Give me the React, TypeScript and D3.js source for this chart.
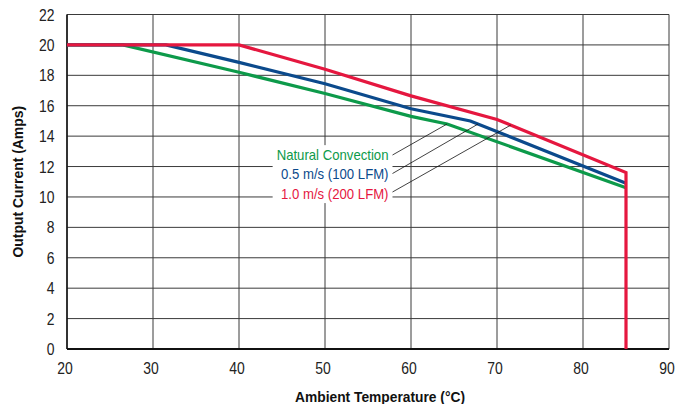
import { useLayoutEffect, useRef, useState } from 'react';
import * as d3 from 'd3';

// derating curves (°C → A)
const NAT_T = [20, 26.5, 40, 50, 60, 64.2, 85];
const NAT_A = [20, 20, 18.2, 16.8, 15.3, 14.8, 10.6];
const AIR05_T = [20, 31.5, 40, 50, 60, 66.9, 85];
const AIR05_A = [20, 20, 18.85, 17.45, 15.8, 15.0, 10.9];
const AIR10_T = [20, 40, 50, 60, 70, 85, 85];
const AIR10_A = [20, 20, 18.4, 16.65, 15.1, 11.6, 0];

const X_TICKS = [20, 30, 40, 50, 60, 70, 80, 90];
const Y_TICKS = [0, 2, 4, 6, 8, 10, 12, 14, 16, 18, 20, 22];

const LABELS = ['Natural Convection', '0.5 m/s (100 LFM)', '1.0 m/s (200 LFM)'];
// where each leader touches its curve (°C)
const LEADER_T = [64.2, 67.8, 71.6];

const W = 678, H = 404;
const X0 = 67, X1 = 669, Y0 = 349, Y1 = 14.5;
const SANS = "'Liberation Sans', Arial, sans-serif";

const SERIES = [
  { t: NAT_T, a: NAT_A, color: '#0d9a4a' },
  { t: AIR05_T, a: AIR05_A, color: '#0b4a8c' },
  { t: AIR10_T, a: AIR10_A, color: '#e5173f' },
];

const interp = (ts: number[], as: number[], t: number) => {
  for (let i = 1; i < ts.length; i++) {
    if (t <= ts[i]) {
      const k = (t - ts[i - 1]) / (ts[i] - ts[i - 1]);
      return as[i - 1] + k * (as[i] - as[i - 1]);
    }
  }
  return as[as.length - 1];
};

// squeezed text, stands in for the condensed face of the original
function CText({ x, y, rot = 0, sq = 0.87, children, ...rest }: any) {
  return (
    <text transform={`translate(${x},${y}) rotate(${rot}) scale(${sq},1)`} fontFamily={SANS} {...rest}>
      {children}
    </text>
  );
}

export default function App() {
  const x = d3.scaleLinear().domain([20, 90]).range([X0, X1]);
  const y = d3.scaleLinear().domain([0, 22]).range([Y0, Y1]);
  const line = d3.line<[number, number]>().x(d => x(d[0])).y(d => y(d[1]));

  const labRef = useRef<SVGGElement>(null);
  const [box, setBox] = useState<{ x: number; y: number; w: number; h: number } | null>(null);
  useLayoutEffect(() => {
    const b = labRef.current?.getBBox();
    if (b) setBox({ x: b.x - 4, y: b.y - 2, w: b.width + 8, h: b.height + 3 });
  }, []);

  // label block: right edge and baselines
  const labX = 388.5;
  const labBase = [159.5, 179, 199];
  const leadY = [155, 173.5, 192];

  return (
    <svg width={W} height={H} style={{ position: 'absolute', left: 0, top: 0 }}>
      <rect width={W} height={H} fill="#fff" />

      {/* grid */}
      {X_TICKS.map(t => (
        <line key={'gx' + t} x1={x(t)} x2={x(t)} y1={y(22)} y2={y(0)} stroke="#3a3a3a" strokeWidth={1} />
      ))}
      {Y_TICKS.map(t => (
        <line key={'gy' + t} x1={x(20)} x2={x(90)} y1={y(t)} y2={y(t)} stroke="#3a3a3a" strokeWidth={1} />
      ))}
      <line x1={x(20)} x2={x(90)} y1={y(0)} y2={y(0)} stroke="#111" strokeWidth={2} />
      <line x1={x(20)} x2={x(20)} y1={y(22)} y2={y(0)} stroke="#111" strokeWidth={1.5} />

      {/* tick labels */}
      {Y_TICKS.map(t => (
        <CText key={'ty' + t} x={54.5} y={y(t) + 6} textAnchor="end" fontSize={16} fill="#222">{t}</CText>
      ))}
      {X_TICKS.map(t => (
        <CText key={'tx' + t} x={x(t) - 2} y={374} textAnchor="middle" fontSize={16} fill="#222">{t}</CText>
      ))}

      {/* axis titles */}
      <CText x={380} y={402} textAnchor="middle" fontWeight="bold" fontSize={15} sq={0.92} fill="#111">
        Ambient Temperature (°C)
      </CText>
      <CText x={23} y={181.7} rot={-90} textAnchor="middle" fontWeight="bold" fontSize={15} sq={0.93} fill="#111">
        Output Current (Amps)
      </CText>

      {/* white patch behind labels */}
      {box && <rect x={box.x} y={box.y} width={box.w} height={box.h} fill="#fff" />}

      {/* curves */}
      {SERIES.map((s, i) => (
        <path key={i} d={line(s.t.map((t, j) => [t, s.a[j]] as [number, number])) ?? ''} fill="none"
          stroke={s.color} strokeWidth={3.2} strokeLinejoin="miter" />
      ))}

      {/* leaders */}
      {SERIES.map((s, i) => (
        <line key={'ld' + i} x1={labX + 4} y1={leadY[i]}
          x2={x(LEADER_T[i])} y2={y(interp(s.t, s.a, LEADER_T[i]))} stroke="#111" strokeWidth={0.8} />
      ))}

      <g ref={labRef}>
        {LABELS.map((l, i) => (
          <CText key={l} x={labX} y={labBase[i]} textAnchor="end" sq={0.94} fontSize={14} fill={SERIES[i].color}>{l}</CText>
        ))}
      </g>
    </svg>
  );
}
